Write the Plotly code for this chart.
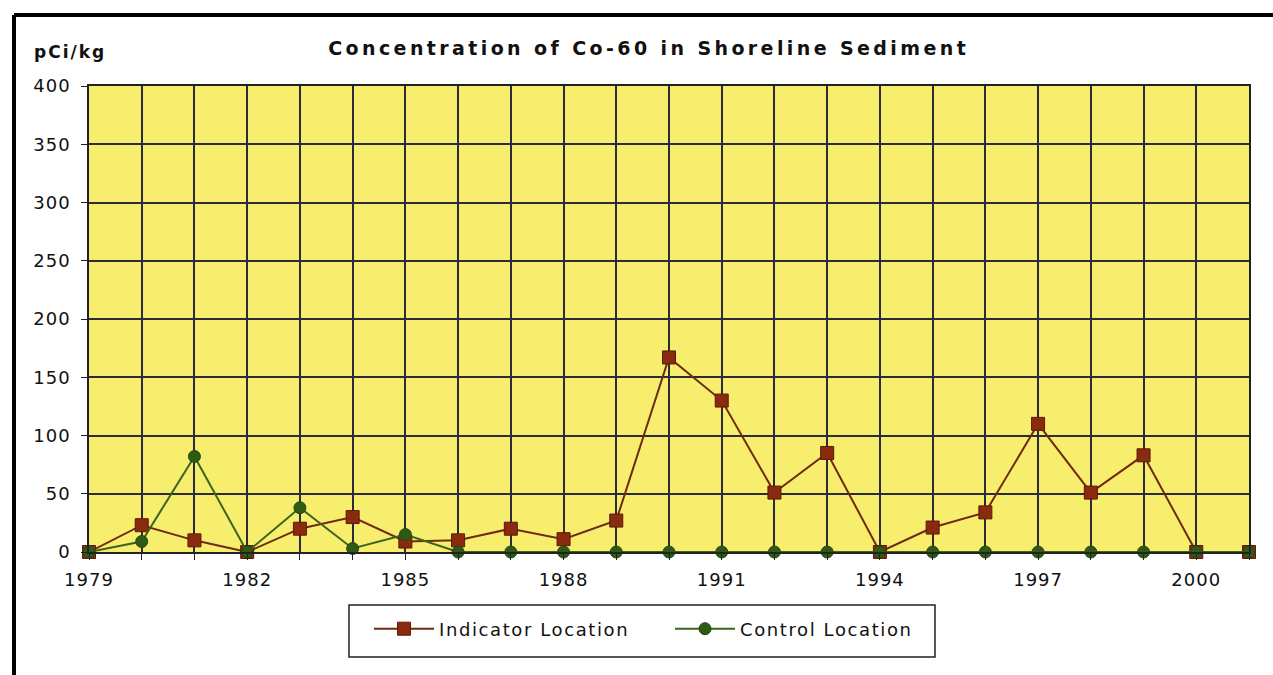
import plotly.graph_objects as go

years = list(range(1979, 2002))
indicator = [0, 23, 10, 0, 20, 30, 9, 10, 20, 11, 27, 167, 130, 51, 85, 0, 21, 34, 110, 51, 83, 0, 0]
control = [0, 9, 82, 0, 38, 3, 15, 0, 0, 0, 0, 0, 0, 0, 0, 0, 0, 0, 0, 0, 0, 0, 0]
x_labels = [str(y) if (y - 1979) % 3 == 0 else "" for y in years]
y_ticks = list(range(0, 401, 50))

fig = go.Figure()
fig.add_trace(go.Scatter(
    x=years, y=indicator, name="Indicator Location", mode="lines+markers",
    line=dict(color="#6E2A12", width=2),
    marker=dict(symbol="square", size=13, color="#8A2A0E", line=dict(color="#5A1A08", width=1)),
    cliponaxis=False))
fig.add_trace(go.Scatter(
    x=years, y=control, name="Control Location", mode="lines+markers",
    line=dict(color="#3C6420", width=2),
    marker=dict(symbol="circle", size=12, color="#2F5A14", line=dict(color="#244810", width=1)),
    cliponaxis=False))

L, R, T, B = 89, 24, 86, 123
W, H = 1273, 675
pw = W - L - R
ph = H - T - B

def px(xp):
    return (xp - L) / pw

def py(yp):
    return (H - B - yp) / ph

font_family = "DejaVu Sans, sans-serif"
grid = "#2B2B3A"

fig.update_layout(
    width=W, height=H,
    margin=dict(l=L, r=R, t=T, b=B),
    paper_bgcolor="white",
    plot_bgcolor="#F8EE6E",
    font=dict(family=font_family, color="#111", size=18),
    showlegend=True,
    legend=dict(orientation="h", x=px(369), xanchor="left", y=py(629), yanchor="middle",
                borderwidth=0, bgcolor="rgba(0,0,0,0)",
                font=dict(size=18), itemwidth=60, entrywidthmode="pixels", entrywidth=226,
                tracegroupgap=0),
    xaxis=dict(range=[1979, 2001], tickvals=years, ticktext=x_labels, showgrid=True,
               gridcolor=grid, gridwidth=1.5, ticks="outside", ticklen=6,
               tickcolor="#222", showline=True, linecolor="#222", linewidth=1.5,
               mirror=True, zeroline=False, tickfont=dict(size=18), ticklabelstandoff=5),
    yaxis=dict(range=[0, 400], tickvals=y_ticks, showgrid=True, gridcolor=grid,
               gridwidth=1.5, ticks="outside", ticklen=6, tickcolor="#222",
               showline=True, linecolor="#222", linewidth=1.5, mirror=True,
               zeroline=False, tickfont=dict(size=18), ticklabelstandoff=7),
    annotations=[
        dict(text="<b>Concentration of Co-60 in Shoreline Sediment</b>", xref="paper", yref="paper",
             x=px(648), y=py(48), xanchor="center", yanchor="middle", showarrow=False,
             font=dict(family="DejaVu Sans, sans-serif", size=19)),
        dict(text="<b>pCi/kg</b>", xref="paper", yref="paper", x=px(38), y=py(52),
             xanchor="left", yanchor="middle", showarrow=False,
             font=dict(family="DejaVu Sans, sans-serif", size=17)),
    ],
    shapes=[
        dict(type="line", xref="paper", yref="paper", x0=px(14), x1=px(1290), y0=py(15), y1=py(15),
             line=dict(color="black", width=4)),
        dict(type="line", xref="paper", yref="paper", x0=px(14), x1=px(14), y0=py(15), y1=py(700),
             line=dict(color="black", width=4)),
        dict(type="rect", xref="paper", yref="paper", x0=px(349), x1=px(935), y0=py(605), y1=py(657),
             line=dict(color="#222", width=1.5), fillcolor="rgba(0,0,0,0)"),
    ],
)

post = """
document.body.style.margin = '0';
document.querySelectorAll('text.annotation-text').forEach(function(t){
  if (t.textContent.indexOf('Concentration') === 0) { t.style.letterSpacing = '3.4px'; }
  else { t.style.letterSpacing = '2px'; }
});
document.querySelectorAll('text.legendtext').forEach(function(t){ t.style.letterSpacing = '1.6px'; });
document.querySelectorAll('g.xtick text, g.ytick text').forEach(function(t){ t.style.letterSpacing = '1px'; });
"""

fig.write_html("out.html", post_script=post, config={"displayModeBar": False})
